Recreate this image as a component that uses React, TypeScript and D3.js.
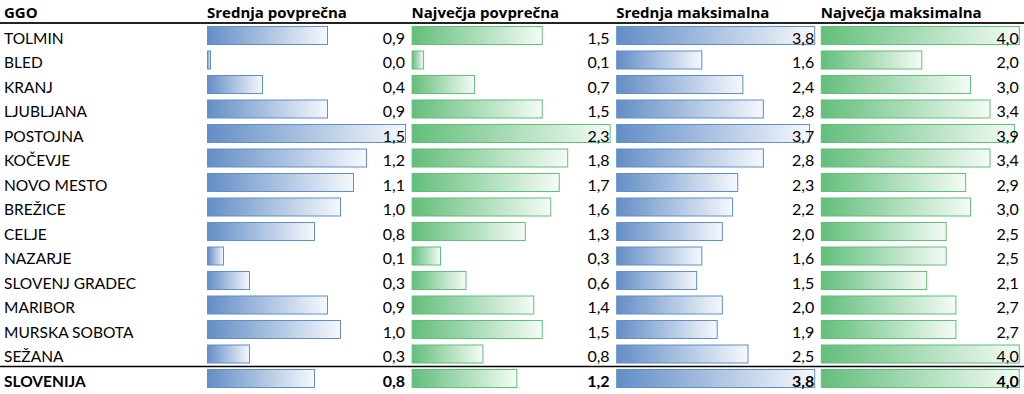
import { useMemo } from 'react';
import * as d3 from 'd3';

const regions = [
  'TOLMIN', 'BLED', 'KRANJ', 'LJUBLJANA', 'POSTOJNA', 'KOČEVJE', 'NOVO MESTO', 'BREŽICE',
  'CELJE', 'NAZARJE', 'SLOVENJ GRADEC', 'MARIBOR', 'MURSKA SOBOTA', 'SEŽANA', 'SLOVENIJA',
];
const headers = ['GGO', 'Srednja povprečna', 'Največja povprečna', 'Srednja maksimalna', 'Največja maksimalna'];

const srednjaPovprecna = [0.9, 0.0, 0.4, 0.9, 1.5, 1.2, 1.1, 1.0, 0.8, 0.1, 0.3, 0.9, 1.0, 0.3, 0.8];
const najvecjaPovprecna = [1.5, 0.1, 0.7, 1.5, 2.3, 1.8, 1.7, 1.6, 1.3, 0.3, 0.6, 1.4, 1.5, 0.8, 1.2];
const srednjaMaksimalna = [3.8, 1.6, 2.4, 2.8, 3.7, 2.8, 2.3, 2.2, 2.0, 1.6, 1.5, 2.0, 1.9, 2.5, 3.8];
const najvecjaMaksimalna = [4.0, 2.0, 3.0, 3.4, 3.9, 3.4, 2.9, 3.0, 2.5, 2.5, 2.1, 2.7, 2.7, 4.0, 4.0];

const columns = [
  { values: srednjaPovprecna, color: '#638ec6', id: 'blue' },
  { values: najvecjaPovprecna, color: '#63be7b', id: 'green' },
  { values: srednjaMaksimalna, color: '#638ec6', id: 'blue' },
  { values: najvecjaMaksimalna, color: '#63be7b', id: 'green' },
];

const W = 1024;
const H = 394;
const HEADER_H = 24;
const ROW_H = 24.5;
const COL_X0 = 206;
const COL_W = 204.6;
const BAR_W = 199;
const MIN_BAR = 4;
const FONT = 'Lato, "Open Sans", sans-serif';
const HEAD_FONT = '"Open Sans", Lato, sans-serif';

const fmt = (v: number) => v.toFixed(1).replace('.', ',');

export default function App() {
  const rowY = useMemo(
    () => d3.scaleLinear().domain([0, 1]).range([HEADER_H, HEADER_H + ROW_H]),
    []
  );
  const colX = (i: number) => COL_X0 + i * COL_W;

  const scales = columns.map(c =>
    d3.scaleLinear().domain([0, d3.max(c.values) ?? 1]).range([MIN_BAR, BAR_W])
  );

  const last = regions.length - 1;

  return (
    <svg
      width={W}
      height={H}
      style={{ position: 'absolute', left: 0, top: 0, background: '#fff' }}
      fontFamily={FONT}
    >
      <defs>
        <linearGradient id="grad-blue" x1="0" x2="1" y1="0" y2="0">
          <stop offset="0" stopColor="#638ec6" />
          <stop offset="1" stopColor="#f6f8fc" />
        </linearGradient>
        <linearGradient id="grad-green" x1="0" x2="1" y1="0" y2="0">
          <stop offset="0" stopColor="#63be7b" />
          <stop offset="1" stopColor="#f4fbf6" />
        </linearGradient>
      </defs>

      {/* header */}
      <text x={4} y={18} fontSize={15} fontWeight={700} fill="#000" fontFamily={HEAD_FONT}>{headers[0]}</text>
      {headers.slice(1).map((h, i) => (
        <text key={h} x={colX(i) + 1} y={18} fontSize={15} fontWeight={700} fill="#000" fontFamily={HEAD_FONT}>{h}</text>
      ))}
      <line x1={0} x2={W} y1={23} y2={23} stroke="#222" strokeWidth={2} />

      {regions.map((r, ri) => {
        const top = rowY(ri);
        const bold = ri === last;
        return (
          <g key={r}>
            <text x={4} y={top + 19.5} fontSize={15.5} fontWeight={bold ? 700 : 400} fill="#000">{r}</text>
            {columns.map((c, ci) => {
              const v = c.values[ri];
              const x0 = colX(ci) + 1;
              const w = scales[ci](v);
              return (
                <g key={ci}>
                  <rect
                    x={x0 + 0.5}
                    y={top + 2.5}
                    width={w - 1}
                    height={18}
                    fill={`url(#grad-${c.id})`}
                    stroke={c.color}
                    strokeWidth={1}
                  />
                  <text
                    x={colX(ci) + 199}
                    y={top + 19.5}
                    textAnchor="end"
                    fontSize={16}
                    fontWeight={bold ? 700 : 400}
                    fill="#000"
                  >
                    {fmt(v)}
                  </text>
                </g>
              );
            })}
          </g>
        );
      })}

      <line x1={0} x2={W} y1={rowY(last) - 0.5} y2={rowY(last) - 0.5} stroke="#000" strokeWidth={1.3} />
    </svg>
  );
}
